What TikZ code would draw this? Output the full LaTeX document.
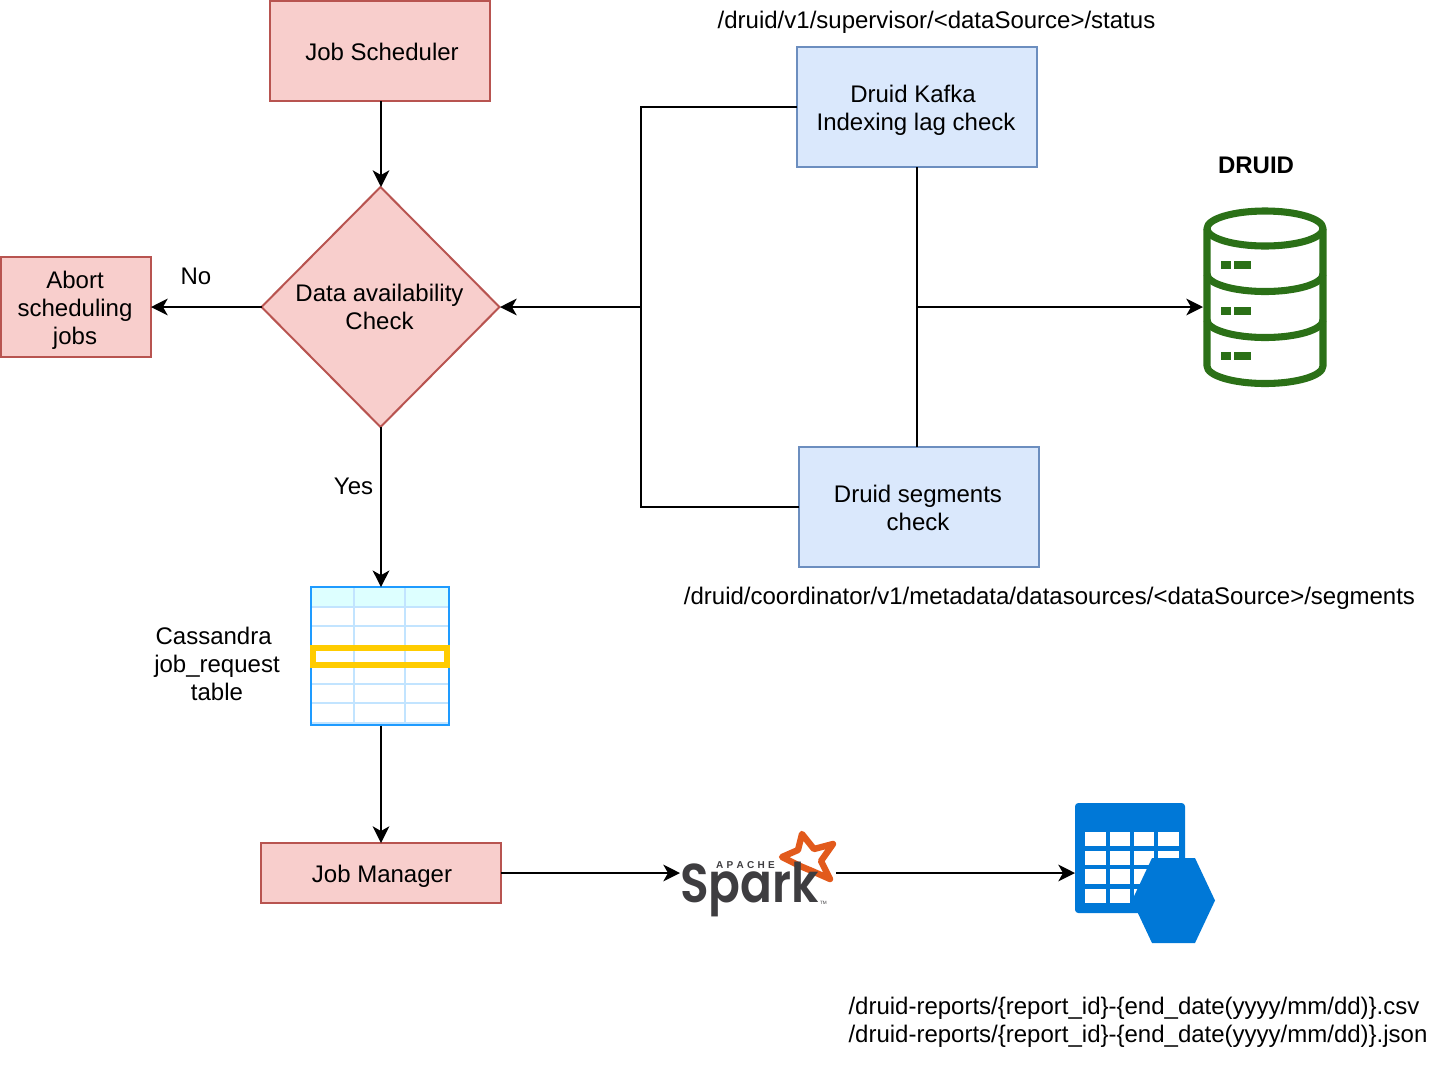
\documentclass[tikz,border=0pt]{standalone}
\usepackage{fontspec}
\setmainfont{Liberation Sans}
\newfontfamily\sparkfont{Poppins SemiBold}
\usetikzlibrary{arrows.meta}
\definecolor{redfill}{HTML}{F8CECC}
\definecolor{redline}{HTML}{B85450}
\definecolor{bluefill}{HTML}{DAE8FC}
\definecolor{blueline}{HTML}{6C8EBF}
\definecolor{dbgreen}{HTML}{2B7017}
\definecolor{tabline}{HTML}{1E9BFF}
\definecolor{tabgrid}{HTML}{C2E4FF}
\definecolor{tabhead}{HTML}{DDFFFF}
\definecolor{tabmark}{HTML}{FFCC00}
\definecolor{azure}{HTML}{0078D7}
\definecolor{sparkgrey}{HTML}{3E3D40}
\definecolor{sparkorange}{HTML}{E25A1C}
\tikzset{
  x=.75pt,y=-.75pt,
  every node/.style={font=\fontsize{18}{21}\selectfont,inner sep=0pt,outer sep=0pt,align=center},
  redbox/.style={draw=redline,fill=redfill,line width=1.5pt,rectangle,anchor=center},
  bluebox/.style={fill=bluefill,line width=1.5pt,rectangle,anchor=center,draw=blueline},
  ghost/.style={rectangle,anchor=center},
  conn/.style={line width=1.5pt,draw=black},
  arrowconn/.style={conn,-{Stealth[length=12.5pt,width=12.5pt,inset=3.5pt]}},
  plainlabel/.style={anchor=center},
}
\begin{document}
\begin{tikzpicture}
\useasboundingbox (0,0) rectangle (1442,1072);
% boxes
\node[redbox,minimum width=165pt,minimum height=75pt] (js) at (380,51) {};
\node[plainlabel] (ljs) at (382,52) {Job Scheduler};
\node[redbox,minimum width=112.5pt,minimum height=75pt] (abort) at (76,307) {};
\node[plainlabel] (labort) at (75,310) {Abort\\scheduling\\jobs};
\node[redbox,minimum width=180pt,minimum height=45pt] (jm) at (381,873) {};
\node[plainlabel] (ljm) at (382,876) {Job Manager};
\node[bluebox,minimum width=180pt,minimum height=90pt] (kafka) at (917,107) {};
\node[plainlabel] (lkafka) at (916,110) {Druid Kafka\hspace*{4.5pt}\\Indexing lag check};
\node[bluebox,minimum width=180pt,minimum height=90pt] (seg) at (919,507) {};
\node[plainlabel] (lseg2) at (918,508) {Druid segments\\check};
% diamond
\draw[draw=redline,fill=redfill,line width=1.5pt] (380.5,187) -- (499.5,307) -- (380.5,427) -- (261.5,307) -- cycle;
\node[ghost,minimum width=178.5pt,minimum height=180pt] (dia) at (381,307) {};
\node[plainlabel] (ldia) at (379.5,307) {Data availability\\Check};
% table
\fill[white] (311,587) rectangle (449,725);
\fill[tabhead] (312,588) rectangle (448,606);
\begin{scope}[tabgrid,line width=1.4pt]
\draw (312,607) -- (448,607);
\draw (312,626) -- (448,626);
\draw (312,684) -- (448,684);
\draw (312,703) -- (448,703);
\draw (312,723) -- (448,723);
\draw (354,588) -- (354,723);
\draw (405,588) -- (405,723);
\end{scope}
\draw[tabline,line width=1.5pt] (311,587) rectangle (449,725);
\draw[tabmark,line width=4.5pt] (313,647.5) rectangle (447,664.5);
\node[ghost,minimum width=105pt,minimum height=104pt] (tb) at (381,656.5) {};
% database icon
\begin{scope}[dbgreen,line width=5.3pt,line join=round]
\draw (1265,228.5) ellipse [x radius=58,y radius=17.5];
\draw (1207,228.5) -- (1207,366) arc[start angle=180,end angle=360,x radius=58,y radius=-17.5] -- (1323,228.5);
\draw (1207,274) arc[start angle=180,end angle=360,x radius=58,y radius=-17.5];
\draw (1207,320) arc[start angle=180,end angle=360,x radius=58,y radius=-17.5];
\end{scope}
\foreach \yy in {265,311,356}{
  \fill[dbgreen] (1221,\yy-4) rectangle (1231,\yy+4);
  \fill[dbgreen] (1234,\yy-4) rectangle (1251,\yy+4);
}
\node[ghost,minimum width=93pt,minimum height=135pt] (db) at (1265,297) {};
% spark logo
\draw[sparkorange,fill=white,line width=4.8pt,line join=round]
  (782,857) -- (798,850) -- (802,834) -- (814,849) -- (833,844) -- (821,861) -- (830,879) -- (812,871) -- (800,866) -- cycle;
\node[anchor=base west,text=sparkgrey,font=\sparkfont\fontsize{41}{44}\selectfont,xscale=.86] (sparkword) at (680,902.5) {Spark};
\node[anchor=base west,text=sparkgrey,font=\bfseries\fontsize{7.5}{8}\selectfont] (apache) at (716,868) {A\,\,P\,\,A\,\,C\,\,H\,\,E};
\node[anchor=base west,text=sparkgrey,font=\fontsize{3.5}{4}\selectfont] (tm) at (820,904) {TM};
\node[ghost,minimum width=117pt,minimum height=60pt] (spark) at (758,873) {};
% azure icon
\fill[azure,rounded corners=2.5pt] (1075,803) rectangle (1185,913);
\foreach \ya/\yb in {832/846,851/865,869/884,889/903}{
  \foreach \xa/\xb in {1085/1106,1110/1130,1134/1154,1158/1179}{
    \fill[white] (\xa,\ya) rectangle (\xb,\yb);
  }
}
\fill[azure] (1152,858) -- (1195,858) -- (1215,900.5) -- (1195,943) -- (1152,943) -- (1132,900.5) -- cycle;
\node[ghost,minimum width=105pt,minimum height=105pt] (az) at (1145,873) {};
% junction coordinates
\coordinate (jl) at (641,307);
\coordinate (jr) at (917,307);
% connectors
\draw[arrowconn] (js.south -| dia.north) -- (dia.north);
\draw[arrowconn] (dia.west) -- (abort.east);
\draw[arrowconn] (dia.south) -- (tb.north);
\draw[arrowconn] (tb.south) -- (jm.north);
\draw[arrowconn] (jm.east) -- (spark.west);
\draw[arrowconn] (spark.east) -- (az.west);
\draw[arrowconn] (kafka.west) -| (jl) -- (dia.east);
\draw[conn] (seg.west) -| (jl);
\draw[conn] (kafka.south) -- (jr);
\draw[conn] (seg.north -| kafka.south) -- (jr);
\draw[arrowconn] (jr) -- (db.west |- jr);
% labels
\node[plainlabel] (lno) at (196,276) {No};
\node[plainlabel] (lyes) at (353.5,486) {Yes};
\node[plainlabel] (ldruid) at (1256,165.5) {\bfseries DRUID};
\node[plainlabel] (lsup) at (936.5,22) {/druid/v1/supervisor/<dataSource>/status};
\node[plainlabel] (lseg) at (1049.5,598) {/druid/coordinator/v1/metadata/datasources/<dataSource>/segments};
\node[plainlabel] (lcas) at (217,664) {Cassandra\hspace*{5pt}\\job\_request\\table};
\node[anchor=west,align=left] (lrep) at (848.5,1022) {/druid-reports/\{report\_id\}-\{end\_date(yyyy/mm/dd)\}.csv\\/druid-reports/\{report\_id\}-\{end\_date(yyyy/mm/dd)\}.json};
\end{tikzpicture}
\end{document}
